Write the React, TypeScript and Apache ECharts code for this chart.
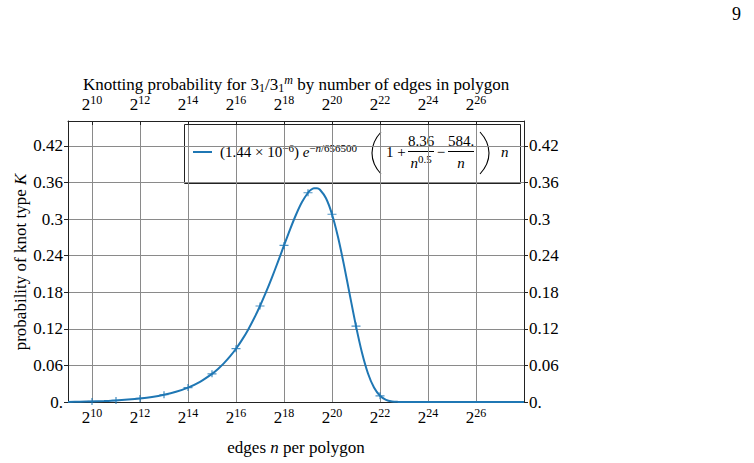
import React, { useEffect, useRef } from "react";
import * as echarts from "echarts";

// ---- data ----
const tickExponents = [10, 12, 14, 16, 18, 20, 22, 24, 26];
const yTickValues = [0, 0.06, 0.12, 0.18, 0.24, 0.3, 0.36, 0.42];
const yTickLabels = ["0.", "0.06", "0.12", "0.18", "0.24", "0.3", "0.36", "0.42"];

// measured points (log2 of edges, probability)
const sampleExp = [10, 11, 12, 13, 14, 15, 16, 17, 18, 19, 20, 21, 22];
const sampleProb = [0.001, 0.0026, 0.0058, 0.0119, 0.0237, 0.0462, 0.0874, 0.1575, 0.2568, 0.3433, 0.308, 0.1245, 0.0102];

// fitted curve
const curveExp = [9, 9.5, 10, 10.5, 11, 11.5, 12, 12.5, 13, 13.5, 14, 14.5, 15, 15.25, 15.5, 15.75, 16, 16.25, 16.5, 16.75, 17, 17.25, 17.5, 17.75, 18, 18.25, 18.5, 18.75, 19, 19.125, 19.25, 19.375, 19.5, 19.75, 20, 20.25, 20.5, 20.75, 21, 21.25, 21.5, 21.75, 22, 22.25, 22.5, 22.75, 23, 24, 25, 26, 27, 28];
const curveProb = [0.0002, 0.0005, 0.001, 0.0017, 0.0026, 0.004, 0.0058, 0.0083, 0.0119, 0.0168, 0.0237, 0.0332, 0.0462, 0.0543, 0.0638, 0.0748, 0.0874, 0.1019, 0.1183, 0.1369, 0.1575, 0.1801, 0.2045, 0.2303, 0.2568, 0.2829, 0.3072, 0.328, 0.3433, 0.3481, 0.3507, 0.3508, 0.3482, 0.3342, 0.308, 0.2706, 0.2246, 0.1741, 0.1245, 0.0808, 0.0468, 0.0237, 0.0102, 0.0036, 0.001, 0.0002, 0.0, 0, 0, 0, 0, 0];

const SERIF = "Liberation Serif";
const BLUE = "#1f77b4";
const INK = "#000";

const xRich = {
  b: { fontSize: 17, fontFamily: SERIF, color: INK },
  s: { fontSize: 12, fontFamily: SERIF, color: INK, padding: [0, 0, 9, 0] },
};
const yRich = {
  v: { fontSize: 17, fontFamily: SERIF, color: INK },
};

function yLabel(v: number) {
  const i = Math.round(v / 0.06);
  if (Math.abs(i * 0.06 - v) < 1e-6 && i >= 0 && i < yTickLabels.length) return `{v|${yTickLabels[i]}}`;
  return "";
}

export default function App() {
  const ref = useRef<HTMLDivElement>(null);
  useEffect(() => {
    if (!ref.current) return;
    const chart = echarts.init(ref.current, null, { renderer: "svg" });
    const fs = 15;
    const supS = { fontSize: 11, fontFamily: SERIF, color: INK, padding: [0, 0, 8, 0] };
    const supI = { ...supS, fontStyle: "italic" };
    const txt = { fontSize: fs, fontFamily: SERIF, fill: INK };
    const baseRich = {
      t: { fontSize: fs, fontFamily: SERIF, color: INK },
      i: { fontSize: fs, fontFamily: SERIF, color: INK, fontStyle: "italic" },
      sp: supS,
      spi: supI,
    };
    chart.setOption({
      animation: false,
      backgroundColor: "#fff",
      grid: { left: 68, right: 230, top: 121, bottom: 61 },
      xAxis: [
        {
          type: "value",
          min: 9,
          max: 28,
          interval: 1,
          position: "bottom",
          axisLine: { show: true, onZero: false, lineStyle: { color: "#222", width: 1 } },
          axisTick: { show: false, customValues: tickExponents },
          axisLabel: {
            customValues: tickExponents,
            margin: 5,
            formatter: (v: number) => `{b|2}{s|${v}}`,
            rich: xRich,
          },
          splitLine: { show: true, lineStyle: { color: "#8a8a8a", width: 1 } },
        },
        {
          type: "value",
          min: 9,
          max: 28,
          interval: 1,
          position: "top",
          axisLine: { show: true, onZero: false, lineStyle: { color: "#222", width: 1 } },
          axisTick: { show: true, inside: true, length: 4, customValues: tickExponents, lineStyle: { color: "#222" } },
          axisLabel: {
            customValues: tickExponents,
            margin: 6,
            formatter: (v: number) => `{b|2}{s|${v}}`,
            rich: xRich,
          },
          splitLine: { show: false },
        },
      ],
      yAxis: [
        {
          type: "value",
          min: 0,
          max: 0.461,
          interval: 0.06,
          position: "left",
          axisLine: { show: true, onZero: false, lineStyle: { color: "#222", width: 1 } },
          axisTick: { show: true, inside: false, length: 4, customValues: yTickValues, lineStyle: { color: "#222" } },
          axisLabel: { customValues: yTickValues, margin: 5, formatter: yLabel, fontSize: 17, fontFamily: SERIF, color: INK, rich: yRich },
          splitLine: { show: true, lineStyle: { color: "#8a8a8a", width: 1 } },
        },
        {
          type: "value",
          min: 0,
          max: 0.461,
          interval: 0.06,
          position: "right",
          axisLine: { show: true, onZero: false, lineStyle: { color: "#222", width: 1 } },
          axisTick: { show: true, inside: false, length: 4, customValues: yTickValues, lineStyle: { color: "#222" } },
          axisLabel: { customValues: yTickValues, margin: 5, formatter: yLabel, fontSize: 17, fontFamily: SERIF, color: INK, rich: yRich },
          splitLine: { show: false },
        },
      ],
      series: [
        {
          type: "line",
          xAxisIndex: 0,
          yAxisIndex: 0,
          data: curveExp.map((x, i) => [x, curveProb[i]]),
          smooth: 0.3,
          showSymbol: false,
          lineStyle: { color: BLUE, width: 2 },
          z: 3,
        },
        {
          type: "scatter",
          xAxisIndex: 0,
          yAxisIndex: 0,
          data: sampleExp.map((x, i) => [x, sampleProb[i]]),
          symbol: "path://M-5,-0.7 H-0.7 V-4 H0.7 V-0.7 H5 V0.7 H0.7 V4 H-0.7 V0.7 H-5 Z",
          symbolSize: [9, 7],
          itemStyle: { color: BLUE },
          z: 4,
        },
      ],
      graphic: [
        // page number
        { type: "text", left: 732, top: 5, style: { text: "9", fontSize: 18, fontFamily: SERIF, fill: INK } },
        // title
        {
          type: "text",
          x: 296,
          y: 84,
          style: {
            text: "Knotting probability for 3{sb|1}/3{sb|1}{sp|m} by number of edges in polygon",
            align: "center",
            verticalAlign: "middle",
            fontSize: 17,
            fontFamily: SERIF,
            fill: INK,
            rich: {
              sb: { fontSize: 12, fontFamily: SERIF, color: INK, padding: [7, 0, 0, 0] },
              sp: { fontSize: 12, fontFamily: SERIF, color: INK, fontStyle: "italic", padding: [0, 0, 9, 0] },
            },
          },
        },
        // y axis name
        {
          type: "text",
          x: 20,
          y: 262,
          rotation: Math.PI / 2,
          style: {
            text: "probability of knot type {i|K}",
            align: "center",
            verticalAlign: "middle",
            fontSize: 17,
            fontFamily: SERIF,
            fill: INK,
            rich: { i: { fontSize: 17, fontFamily: SERIF, color: INK, fontStyle: "italic" } },
          },
        },
        // x axis name
        {
          type: "text",
          x: 296,
          y: 447,
          style: {
            text: "edges {i|n} per polygon",
            align: "center",
            verticalAlign: "middle",
            fontSize: 17,
            fontFamily: SERIF,
            fill: INK,
            rich: { i: { fontSize: 17, fontFamily: SERIF, color: INK, fontStyle: "italic" } },
          },
        },
        // legend box
        {
          type: "group",
          z: 100,
          children: [
            { type: "rect", shape: { x: 184.5, y: 124.5, width: 336, height: 59 }, style: { fill: "#fff", stroke: "#222", lineWidth: 1 } },
            { type: "line", shape: { x1: 193, y1: 152, x2: 212, y2: 152 }, style: { stroke: BLUE, lineWidth: 2 } },
            {
              type: "text",
              x: 220,
              y: 152,
              style: {
                text: "{t|(1.44 × 10}{sp|−6}{t|) }{i|e}{sp|−}{spi|n}{sp|/656500}",
                verticalAlign: "middle",
                align: "left",
                fontSize: fs,
                fontFamily: SERIF,
                fill: INK,
                rich: baseRich,
              },
            },
            { type: "bezierCurve", shape: { x1: 381, y1: 132, cpx1: 369, cpy1: 145, cpx2: 369, cpy2: 161, x2: 381, y2: 174 }, style: { stroke: INK, lineWidth: 1.1, fill: null } },
            { type: "text", x: 386, y: 152, style: { ...txt, text: "1 +", verticalAlign: "middle", align: "left" } },
            { type: "text", x: 421, y: 141, style: { ...txt, text: "8.36", verticalAlign: "middle", align: "center" } },
            { type: "line", shape: { x1: 408, y1: 151.5, x2: 434, y2: 151.5 }, style: { stroke: INK, lineWidth: 1 } },
            {
              type: "text",
              x: 421,
              y: 163,
              style: { text: "{i|n}{sp|0.5}", verticalAlign: "middle", align: "center", fontSize: fs, fontFamily: SERIF, fill: INK, rich: baseRich },
            },
            { type: "text", x: 441, y: 152, style: { ...txt, text: "−", verticalAlign: "middle", align: "center" } },
            { type: "text", x: 461, y: 141, style: { ...txt, text: "584.", verticalAlign: "middle", align: "center" } },
            { type: "line", shape: { x1: 448, y1: 151.5, x2: 474, y2: 151.5 }, style: { stroke: INK, lineWidth: 1 } },
            { type: "text", x: 461, y: 163, style: { ...txt, text: "n", fontStyle: "italic", verticalAlign: "middle", align: "center" } },
            { type: "bezierCurve", shape: { x1: 480, y1: 132, cpx1: 492, cpy1: 145, cpx2: 492, cpy2: 161, x2: 480, y2: 174 }, style: { stroke: INK, lineWidth: 1.1, fill: null } },
            { type: "text", x: 501, y: 152, style: { ...txt, text: "n", fontStyle: "italic", verticalAlign: "middle", align: "left" } },
          ],
        },
      ],
    });
    return () => chart.dispose();
  }, []);
  return <div ref={ref} style={{ width: 754, height: 463, position: "absolute", left: 0, top: 0 }} />;
}
